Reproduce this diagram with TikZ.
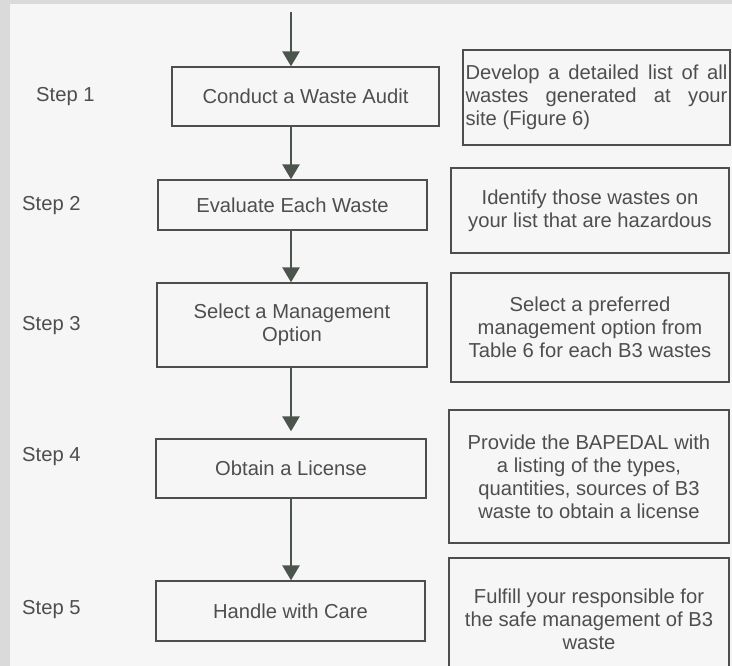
\documentclass[tikz,border=0pt]{standalone}
\usepackage{fontspec}
\setmainfont{Liberation Sans}
\usetikzlibrary{arrows.meta}
\definecolor{ink}{HTML}{4E4E4E}
\definecolor{arrink}{HTML}{4C554D}
\definecolor{bg}{HTML}{F6F6F6}
\definecolor{strip}{HTML}{DADADA}
\begin{document}
\begin{tikzpicture}[x=1pt,y=-1pt,
  font=\fontsize{20.2}{23}\selectfont,
  box/.style={draw=ink, line width=1.3pt, text=ink, rectangle, inner sep=0pt, align=center},
  steplbl/.style={text=ink, anchor=west, inner sep=0pt},
  arr/.style={draw=arrink, line width=2.6pt, -{Triangle[width=17pt,length=15pt]}}]
\useasboundingbox (0,0) rectangle (732,666);
\fill[bg] (0,0) rectangle (732,666);
\fill[strip] (0,0) rectangle (10,666);
\fill[strip] (0,0) rectangle (732,4);
\begin{scope}
\clip (0,0) rectangle (732,666);
% left boxes
\node[box, minimum width=267pt, minimum height=59pt] (b1) at (305.5,96.5) {Conduct a Waste Audit};
\node[box, minimum width=269pt, minimum height=50pt] (b2) at (292.5,205) {Evaluate Each Waste};
\node[box, minimum width=270pt, minimum height=84pt] (b3) at (292,325) {Select a Management\\Option};
\node[box, minimum width=270pt, minimum height=59pt] (b4) at (291,468.5) {Obtain a License};
\node[box, minimum width=269pt, minimum height=60pt] (b5) at (290.5,611) {Handle with Care};
% right boxes
\node[box, align=left, minimum width=267pt, minimum height=95pt] (r1) at (596.5,97.5)
  {\makebox[262pt][s]{Develop a detailed list of all}\\\makebox[262pt][s]{wastes generated at your}\\site (Figure 6)};
\node[box, minimum width=278pt, minimum height=85pt] (r2) at (590,210.5)
  {Identify those wastes on\\your list that are hazardous};
\node[box, minimum width=278pt, minimum height=109pt] (r3) at (590,327.5)
  {Select a preferred\\management option from\\Table 6 for each B3 wastes};
\node[box, minimum width=280pt, minimum height=133pt] (r4) at (589,476.5)
  {Provide the BAPEDAL with\\a listing of the types,\\quantities, sources of B3\\waste to obtain a license};
\node[box, minimum width=280pt, minimum height=122pt] (r5) at (589,619)
  {Fulfill your responsible for\\the safe management of B3\\waste};
\end{scope}
% step labels
\node[steplbl] (s1) at (36,97) {Step 1};
\node[steplbl] (s2) at (22,206) {Step 2};
\node[steplbl] (s3) at (22,326) {Step 3};
\node[steplbl] (s4) at (22,457) {Step 4};
\node[steplbl] (s5) at (22,610) {Step 5};
% arrows
\coordinate (top) at (291,12);
\draw[arr] (top) -- (b1.north -| top);
\draw[arr] (b1.south -| top) -- (b2.north -| top);
\draw[arr] (b2.south -| top) -- (b3.north -| top);
\draw[arr, shorten >=7pt] (b3.south -| top) -- (b4.north -| top);
\draw[arr] (b4.south -| top) -- (b5.north -| top);
\end{tikzpicture}
\end{document}
